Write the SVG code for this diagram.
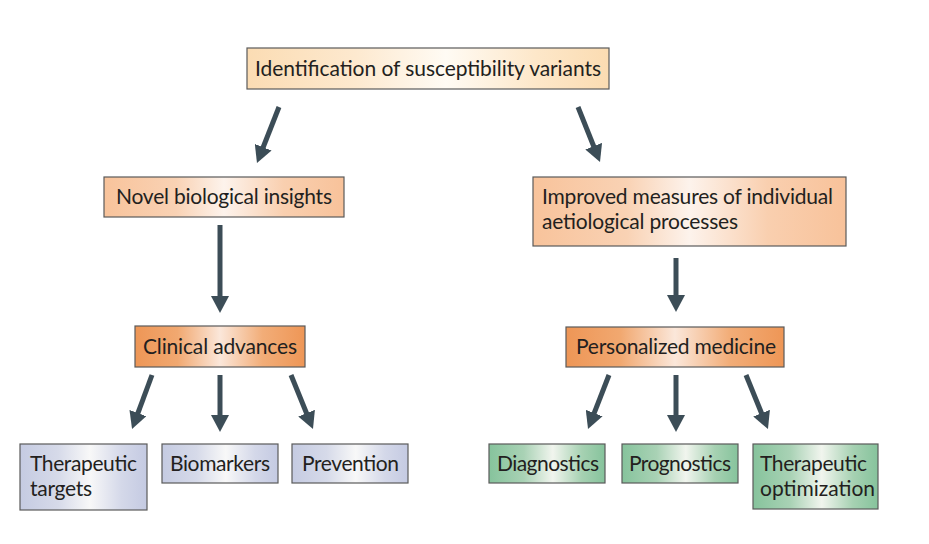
<svg xmlns="http://www.w3.org/2000/svg" width="929" height="544" viewBox="0 0 929 544">
<defs>
<linearGradient id="gTop" x1="0" y1="0" x2="1" y2="0">
<stop offset="0" stop-color="#fbdcb3"/><stop offset="0.3" stop-color="#fde9cf"/><stop offset="0.55" stop-color="#fffbf4"/><stop offset="0.8" stop-color="#fde7c9"/><stop offset="1" stop-color="#fbdcb2"/>
</linearGradient>
<linearGradient id="gPeach" x1="0" y1="0" x2="1" y2="0">
<stop offset="0" stop-color="#f8c39b"/><stop offset="0.3" stop-color="#f9d2b4"/><stop offset="0.5" stop-color="#fdf3ec"/><stop offset="0.75" stop-color="#f9cfaf"/><stop offset="1" stop-color="#f8c29a"/>
</linearGradient>
<linearGradient id="gOrange" x1="0" y1="0" x2="1" y2="0">
<stop offset="0" stop-color="#ee9656"/><stop offset="0.25" stop-color="#f1a870"/><stop offset="0.5" stop-color="#fbe7da"/><stop offset="0.75" stop-color="#f2ad78"/><stop offset="1" stop-color="#ee9656"/>
</linearGradient>
<linearGradient id="gBlue" x1="0" y1="0" x2="1" y2="0">
<stop offset="0" stop-color="#c5cbe2"/><stop offset="0.3" stop-color="#d6dae9"/><stop offset="0.55" stop-color="#f8f8f8"/><stop offset="0.8" stop-color="#d4d8e9"/><stop offset="1" stop-color="#c4cae2"/>
</linearGradient>
<linearGradient id="gGreen" x1="0" y1="0" x2="1" y2="0">
<stop offset="0" stop-color="#86c39c"/><stop offset="0.3" stop-color="#a9d2b5"/><stop offset="0.55" stop-color="#f1f5ee"/><stop offset="0.8" stop-color="#a6d1b2"/><stop offset="1" stop-color="#86c39c"/>
</linearGradient>
<marker id="ah" viewBox="0 0 17 18" refX="3" refY="9" markerWidth="17" markerHeight="18" markerUnits="userSpaceOnUse" orient="auto">
<path d="M0,0 L17,9 L0,18 z" fill="#3c4d57"/>
</marker>
</defs>
<style>
.box{stroke:#5a5a5a;stroke-width:1.2}
.t{font-family:Lato,"Open Sans","Liberation Sans",sans-serif;font-size:21px;fill:#231f20}
.a{stroke:#3c4d57;stroke-width:5;fill:none;marker-end:url(#ah)}
</style>
<g id="connectors">
<line class="a" x1="279" y1="107" x2="262.1" y2="150"/>
<line class="a" x1="578" y1="107" x2="594.8" y2="149"/>
<line class="a" x1="220" y1="225" x2="220" y2="299"/>
<line class="a" x1="676" y1="258" x2="676" y2="298"/>
<line class="a" x1="152" y1="375" x2="136.9" y2="415.9"/>
<line class="a" x1="220" y1="375" x2="220" y2="418"/>
<line class="a" x1="291" y1="375" x2="307.7" y2="416"/>
<line class="a" x1="609" y1="375" x2="593.1" y2="415.9"/>
<line class="a" x1="676" y1="375" x2="676" y2="418"/>
<line class="a" x1="746" y1="375" x2="762.7" y2="416"/>
</g>
<g id="identification">
<rect class="box" x="247" y="48" width="362" height="41" fill="url(#gTop)"/>
<text class="t" x="255" y="76" textLength="346">Identification of susceptibility variants</text>
</g>
<g id="novel">
<rect class="box" x="104" y="177" width="240" height="40" fill="url(#gPeach)"/>
<text class="t" x="116" y="204" textLength="216">Novel biological insights</text>
</g>
<g id="improved">
<rect class="box" x="533" y="177" width="313" height="69" fill="url(#gPeach)"/>
<text class="t" x="542" y="204" textLength="291">Improved measures of individual</text>
<text class="t" x="542" y="229" textLength="196">aetiological processes</text>
</g>
<g id="clinical">
<rect class="box" x="135" y="326" width="170" height="41" fill="url(#gOrange)"/>
<text class="t" x="143" y="354" textLength="154">Clinical advances</text>
</g>
<g id="personalized">
<rect class="box" x="566" y="327" width="218" height="40" fill="url(#gOrange)"/>
<text class="t" x="576" y="354" textLength="200">Personalized medicine</text>
</g>
<g id="therapeutic-targets">
<rect class="box" x="20" y="444" width="127" height="66" fill="url(#gBlue)"/>
<text class="t" x="30" y="471" textLength="107">Therapeutic</text>
<text class="t" x="30" y="496" textLength="62">targets</text>
</g>
<g id="biomarkers">
<rect class="box" x="162" y="444" width="116" height="39" fill="url(#gBlue)"/>
<text class="t" x="170" y="471" textLength="100">Biomarkers</text>
</g>
<g id="prevention">
<rect class="box" x="292" y="444" width="116" height="39" fill="url(#gBlue)"/>
<text class="t" x="302" y="471" textLength="97">Prevention</text>
</g>
<g id="diagnostics">
<rect class="box" x="489" y="444" width="116" height="39" fill="url(#gGreen)"/>
<text class="t" x="497" y="471" textLength="102">Diagnostics</text>
</g>
<g id="prognostics">
<rect class="box" x="622" y="444" width="116" height="39" fill="url(#gGreen)"/>
<text class="t" x="629" y="471" textLength="102">Prognostics</text>
</g>
<g id="therapeutic-optimization">
<rect class="box" x="753" y="444" width="125" height="65" fill="url(#gGreen)"/>
<text class="t" x="760" y="471" textLength="107">Therapeutic</text>
<text class="t" x="760" y="496" textLength="115">optimization</text>
</g>
</svg>
